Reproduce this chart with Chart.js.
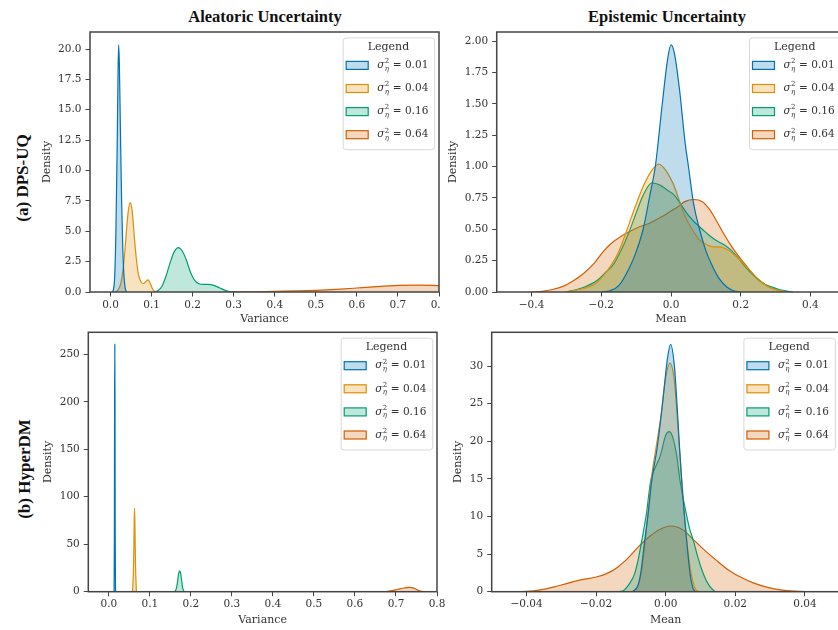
<!DOCTYPE html>
<html>
<head>
<meta charset="utf-8">
<script src="https://cdn.jsdelivr.net/npm/chart.js@4.4.1/dist/chart.umd.min.js"></script>
<style>
  html, body { margin: 0; padding: 0; background: #fff; width: 838px; height: 630px; overflow: hidden; }
  canvas { position: absolute; }
  .title { position: absolute; font: bold 16.5px "Liberation Serif", serif; color: #111; transform: translate(-50%, -50%); white-space: nowrap; }
  .row { position: absolute; font: bold 17px "Liberation Serif", serif; color: #111; transform: translate(-50%, -50%) rotate(-90deg); white-space: nowrap; }
</style>
</head>
<body>
<div class="title" style="left:265px; top:17px">Aleatoric Uncertainty</div>
<div class="title" style="left:667px; top:17px">Epistemic Uncertainty</div>
<div class="row" style="left:23px; top:178px">(a) DPS-UQ</div>
<div class="row" style="left:25px; top:469px">(b) HyperDM</div>

<canvas id="tl" width="440" height="335" style="left:0; top:0"></canvas>
<canvas id="tr" width="410" height="335" style="left:440px; top:0"></canvas>
<canvas id="bl" width="445" height="330" style="left:0; top:300px"></canvas>
<canvas id="br" width="410" height="330" style="left:440px; top:300px"></canvas>

<script>
// ---- data ----
const seriesLabels = ['0.01', '0.04', '0.16', '0.64'];
const seriesColors = ['#0173b2', '#de8f05', '#029e73', '#d55e00'];

// (a) DPS-UQ, aleatoric (variance)
const dpsAlea001 = [[0.004,0],[0.007,0.2],[0.010,1.2],[0.013,4.8],[0.016,11.5],[0.0185,18.5],[0.0198,20.35],[0.0215,18.8],[0.024,13.5],[0.027,7.5],[0.030,3.4],[0.033,1.2],[0.036,0.3],[0.039,0]];
const dpsAlea004 = [[0.010,0],[0.018,0.15],[0.025,0.7],[0.030,1.7],[0.034,3.0],[0.038,4.7],[0.043,6.6],[0.048,7.35],[0.053,6.6],[0.058,4.5],[0.063,2.7],[0.068,1.45],[0.074,0.85],[0.080,0.7],[0.086,0.85],[0.091,1.0],[0.096,0.78],[0.101,0.35],[0.106,0.08],[0.112,0]];
const dpsAlea016 = [[0.106,0],[0.115,0.1],[0.125,0.45],[0.135,1.3],[0.145,2.4],[0.155,3.3],[0.165,3.65],[0.175,3.35],[0.185,2.6],[0.195,1.6],[0.205,0.95],[0.215,0.68],[0.225,0.62],[0.235,0.62],[0.245,0.6],[0.255,0.5],[0.265,0.35],[0.275,0.2],[0.285,0.08],[0.295,0.02],[0.305,0]];
const dpsAlea064 = [[0.28,0],[0.35,0.02],[0.40,0.05],[0.45,0.09],[0.50,0.14],[0.55,0.22],[0.60,0.33],[0.65,0.45],[0.70,0.54],[0.75,0.57],[0.80,0.53],[0.85,0.45]];

// (a) DPS-UQ, epistemic (mean)
const dpsEpi001 = [[-0.2,0],[-0.175,0.01],[-0.15,0.05],[-0.12,0.19],[-0.1,0.32],[-0.08,0.5],[-0.06,0.78],[-0.045,1.0],[-0.025,1.5],[-0.01,1.85],[0,1.97],[0.01,1.9],[0.025,1.6],[0.04,1.2],[0.05,1.0],[0.065,0.7],[0.08,0.52],[0.1,0.33],[0.12,0.2],[0.14,0.1],[0.16,0.04],[0.18,0.01],[0.2,0]];
const dpsEpi004 = [[-0.3,0],[-0.28,0.01],[-0.25,0.03],[-0.22,0.06],[-0.2,0.11],[-0.17,0.22],[-0.15,0.32],[-0.127,0.49],[-0.1,0.7],[-0.075,0.87],[-0.055,0.97],[-0.035,1.02],[-0.015,0.97],[0.005,0.87],[0.02,0.76],[0.035,0.64],[0.05,0.55],[0.065,0.48],[0.08,0.42],[0.1,0.38],[0.12,0.36],[0.14,0.36],[0.16,0.34],[0.18,0.3],[0.2,0.25],[0.22,0.19],[0.24,0.13],[0.26,0.08],[0.28,0.04],[0.3,0.02],[0.33,0]];
const dpsEpi016 = [[-0.3,0],[-0.27,0.02],[-0.24,0.05],[-0.213,0.09],[-0.19,0.15],[-0.165,0.22],[-0.14,0.35],[-0.12,0.48],[-0.1,0.63],[-0.08,0.77],[-0.055,0.87],[-0.03,0.85],[-0.01,0.81],[0.01,0.77],[0.03,0.69],[0.05,0.61],[0.07,0.55],[0.09,0.5],[0.11,0.45],[0.13,0.41],[0.15,0.38],[0.17,0.34],[0.19,0.28],[0.21,0.21],[0.23,0.15],[0.25,0.1],[0.27,0.06],[0.29,0.04],[0.31,0.02],[0.35,0]];
const dpsEpi064 = [[-0.4,0],[-0.37,0.005],[-0.34,0.02],[-0.31,0.045],[-0.28,0.09],[-0.25,0.15],[-0.22,0.23],[-0.195,0.32],[-0.17,0.39],[-0.145,0.44],[-0.12,0.48],[-0.09,0.52],[-0.06,0.55],[-0.04,0.58],[-0.02,0.61],[0,0.645],[0.02,0.68],[0.04,0.72],[0.065,0.737],[0.09,0.72],[0.11,0.66],[0.13,0.57],[0.15,0.47],[0.17,0.38],[0.19,0.3],[0.21,0.23],[0.23,0.16],[0.25,0.1],[0.27,0.06],[0.29,0.03],[0.31,0.012],[0.34,0]];

// (b) HyperDM, aleatoric (variance)
const hypAlea001 = [[0.0128,0],[0.0136,60],[0.0141,200],[0.0146,260.5],[0.0151,200],[0.0156,60],[0.0164,0]];
const hypAlea004 = [[0.058,0],[0.0605,30],[0.062,75],[0.0627,87.8],[0.0635,75],[0.065,30],[0.0672,0]];
const hypAlea016 = [[0.161,0],[0.165,4],[0.168,12],[0.1705,19.5],[0.1727,22],[0.175,19.5],[0.1775,12],[0.180,4],[0.184,0]];
const hypAlea064 = [[0.675,0],[0.69,1.2],[0.705,2.6],[0.72,3.9],[0.732,4.5],[0.745,3.5],[0.755,1.3],[0.765,0.2],[0.775,0]];

// (b) HyperDM, epistemic (mean)
const hypEpi001 = [[-0.0095,0],[-0.008,0.8],[-0.0072,2.4],[-0.006,6.9],[-0.005,10.5],[-0.004,14.8],[-0.0025,19],[-0.001,24.6],[0.0005,31],[0.0014,32.9],[0.0025,30],[0.0033,24.6],[0.004,19],[0.0046,14.8],[0.0053,10.5],[0.006,6.9],[0.007,2.4],[0.0078,0.5],[0.0085,0]];
const hypEpi004 = [[-0.0095,0],[-0.008,0.8],[-0.007,2.5],[-0.006,6.2],[-0.005,11],[-0.004,15.5],[-0.003,18.5],[-0.0015,23],[0,28.5],[0.0012,30.4],[0.0025,28],[0.0035,22],[0.0045,15.5],[0.0055,9.5],[0.0065,5],[0.0075,2],[0.0085,0.4],[0.0095,0]];
const hypEpi016 = [[-0.0135,0],[-0.012,0.2],[-0.0105,1.0],[-0.009,2.3],[-0.0078,4.5],[-0.0068,7],[-0.0055,10.5],[-0.0043,14.8],[-0.003,16.5],[-0.0016,18],[0,20.8],[0.001,21.3],[0.002,20.6],[0.0032,18],[0.0041,14.8],[0.0055,11.3],[0.0068,8.5],[0.0079,6.9],[0.0093,4.5],[0.0108,2.4],[0.0125,0.8],[0.0142,0]];
const hypEpi064 = [[-0.045,0],[-0.04,0.05],[-0.036,0.25],[-0.032,0.65],[-0.028,1.15],[-0.024,1.6],[-0.02,1.95],[-0.017,2.4],[-0.014,3.2],[-0.011,4.4],[-0.008,5.9],[-0.005,7.2],[-0.002,8.2],[0.0015,8.74],[0.005,8.2],[0.008,6.9],[0.011,5.6],[0.0145,4.2],[0.018,2.9],[0.0215,1.95],[0.025,1.2],[0.029,0.6],[0.033,0.25],[0.037,0.08],[0.042,0]];

// tick positions
const varianceTicks = [0, 0.1, 0.2, 0.3, 0.4, 0.5, 0.6, 0.7, 0.8];
const dpsMeanTicks = [-0.4, -0.2, 0, 0.2, 0.4];
const hypMeanTicks = [-0.04, -0.02, 0, 0.02, 0.04];
const dpsAleaYTicks = [0, 2.5, 5, 7.5, 10, 12.5, 15, 17.5, 20];
const dpsEpiYTicks = [0, 0.25, 0.5, 0.75, 1, 1.25, 1.5, 1.75, 2];
const hypAleaYTicks = [0, 50, 100, 150, 200, 250];
const hypEpiYTicks = [0, 5, 10, 15, 20, 25, 30];

// ---- drawing ----
const tickFont = { family: '"DejaVu Serif", serif', size: 10.5 };
const labelFont = { family: '"DejaVu Serif", serif', size: 11 };
const textColor = '#333';
const axisColor = '#444';

function withAlpha(hex, a) {
    const n = parseInt(hex.slice(1), 16);
    return `rgba(${(n >> 16) & 255}, ${(n >> 8) & 255}, ${n & 255}, ${a})`;
}

function fmt(v, dec) {
    const s = Math.abs(v).toFixed(dec);
    return v < -1e-12 ? '\u2212' + s : s;
}

function kdeSets(series) {
    return series.map((pts, i) => ({
        label: seriesLabels[i],
        data: pts.map(([x, y]) => ({ x, y })),
        showLine: true,
        fill: 'origin',
        borderColor: seriesColors[i],
        backgroundColor: withAlpha(seriesColors[i], 0.25),
        borderWidth: 1.2,
        pointRadius: 0,
        cubicInterpolationMode: 'monotone'
    }));
}

// box around the axes + matplotlib-like legend with sigma^2_eta labels
const frameAndLegend = {
    id: 'frameAndLegend',
    afterDraw(chart) {
        const { ctx, chartArea: a } = chart;
        ctx.save();
        ctx.strokeStyle = axisColor;
        ctx.lineWidth = 1.5;
        ctx.strokeRect(a.left, a.top, a.right - a.left, a.bottom - a.top);

        const bw = 91.5, bh = 111.8;
        const bx = a.right - 96.3, by = a.top + 5.4;
        ctx.beginPath();
        ctx.roundRect(bx + 0.5, by + 0.5, bw, bh, 3);
        ctx.fillStyle = 'rgba(255,255,255,0.8)';
        ctx.fill();
        ctx.strokeStyle = '#d8d8d8';
        ctx.lineWidth = 1;
        ctx.stroke();

        ctx.fillStyle = textColor;
        ctx.textBaseline = 'middle';
        ctx.textAlign = 'center';
        ctx.font = '11px "DejaVu Serif"';
        ctx.fillText('Legend', bx + bw / 2, by + 9.5);

        ctx.textAlign = 'left';
        seriesLabels.forEach((lab, i) => {
            const y = by + 28 + i * 23.1;
            ctx.fillStyle = withAlpha(seriesColors[i], 0.25);
            ctx.fillRect(bx + 3.5, y - 4, 22, 8);
            ctx.strokeStyle = seriesColors[i];
            ctx.lineWidth = 1.2;
            ctx.strokeRect(bx + 3.5, y - 4, 22, 8);

            const tx = bx + 34.5;
            ctx.fillStyle = textColor;
            ctx.font = 'italic 10.5px "DejaVu Serif"';
            ctx.fillText('\u03c3', tx, y);
            const sx = tx + ctx.measureText('\u03c3').width + 0.3;
            ctx.font = '7px "DejaVu Serif"';
            ctx.fillText('2', sx, y - 4);
            ctx.font = 'italic 7px "DejaVu Serif"';
            ctx.fillText('\u03b7', sx, y + 3.5);
            ctx.font = '10.5px "DejaVu Serif"';
            ctx.fillText(' = ' + lab, sx + 4.8, y);
        });
        ctx.restore();
    }
};

function makeChart(id, p) {
    const tickGrid = { display: true, drawOnChartArea: false, drawTicks: true, tickLength: 4.5, color: axisColor, lineWidth: 1 };
    return new Chart(document.getElementById(id), {
        type: 'scatter',
        data: { datasets: kdeSets(p.series) },
        options: {
            responsive: false,
            animation: false,
            devicePixelRatio: 1,
            layout: { padding: p.pad },
            plugins: { legend: { display: false }, tooltip: { enabled: false } },
            scales: {
                x: {
                    type: 'linear', min: p.xMin, max: p.xMax,
                    afterBuildTicks: s => { s.ticks = p.xTicks.map(v => ({ value: v })); },
                    afterFit: s => { s.height = p.xH; s.paddingLeft = 0; s.paddingRight = 0; },
                    ticks: { callback: v => fmt(v, p.xDec), font: tickFont, color: textColor, padding: 2, autoSkip: false, maxRotation: 0 },
                    grid: tickGrid,
                    border: { display: false },
                    title: { display: true, text: p.xTitle, font: labelFont, color: textColor, padding: { top: 0, bottom: p.xTitlePad } }
                },
                y: {
                    type: 'linear', min: 0, max: p.yMax,
                    afterBuildTicks: s => { s.ticks = p.yTicks.map(v => ({ value: v })); },
                    afterFit: s => { s.width = p.yW; s.paddingTop = 0; s.paddingBottom = 0; },
                    ticks: { callback: v => fmt(v, p.yDec), font: tickFont, color: textColor, padding: 4, autoSkip: false },
                    grid: tickGrid,
                    border: { display: false },
                    title: { display: true, text: 'Density', font: labelFont, color: textColor, padding: { top: p.yTitlePad, bottom: 0 } }
                }
            }
        },
        plugins: [frameAndLegend]
    });
}

makeChart('tl', {
    series: [dpsAlea001, dpsAlea004, dpsAlea016, dpsAlea064],
    xMin: -0.05, xMax: 0.8, xTicks: varianceTicks, xDec: 1, xTitle: 'Variance',
    yMax: 21.4, yTicks: dpsAleaYTicks, yDec: 1,
    pad: { top: 32, right: 1, left: 0, bottom: 0 }, yW: 90, xH: 43, xTitlePad: 9.4, yTitlePad: 40.1
});
makeChart('tr', {
    series: [dpsEpi001, dpsEpi004, dpsEpi016, dpsEpi064],
    xMin: -0.5, xMax: 0.5, xTicks: dpsMeanTicks, xDec: 1, xTitle: 'Mean',
    yMax: 2.072, yTicks: dpsEpiYTicks, yDec: 2,
    pad: { top: 32, right: 4.7, left: 0, bottom: 0 }, yW: 56.7, xH: 43, xTitlePad: 9.4, yTitlePad: 6.7
});
makeChart('bl', {
    series: [hypAlea001, hypAlea004, hypAlea016, hypAlea064],
    xMin: -0.05, xMax: 0.8, xTicks: varianceTicks, xDec: 1, xTitle: 'Variance',
    yMax: 273.2, yTicks: hypAleaYTicks, yDec: 0,
    pad: { top: 32.3, right: 8, left: 0, bottom: 0 }, yW: 88.3, xH: 38.3, xTitlePad: 3.4, yTitlePad: 41.7
});
makeChart('br', {
    series: [hypEpi001, hypEpi004, hypEpi016, hypEpi064],
    xMin: -0.05, xMax: 0.05, xTicks: hypMeanTicks, xDec: 2, xTitle: 'Mean',
    yMax: 34.5, yTicks: hypEpiYTicks, yDec: 0,
    pad: { top: 32.3, right: 10.3, left: 0, bottom: 0 }, yW: 51.7, xH: 38.3, xTitlePad: 3.4, yTitlePad: 11.7
});
</script>
</body>
</html>
